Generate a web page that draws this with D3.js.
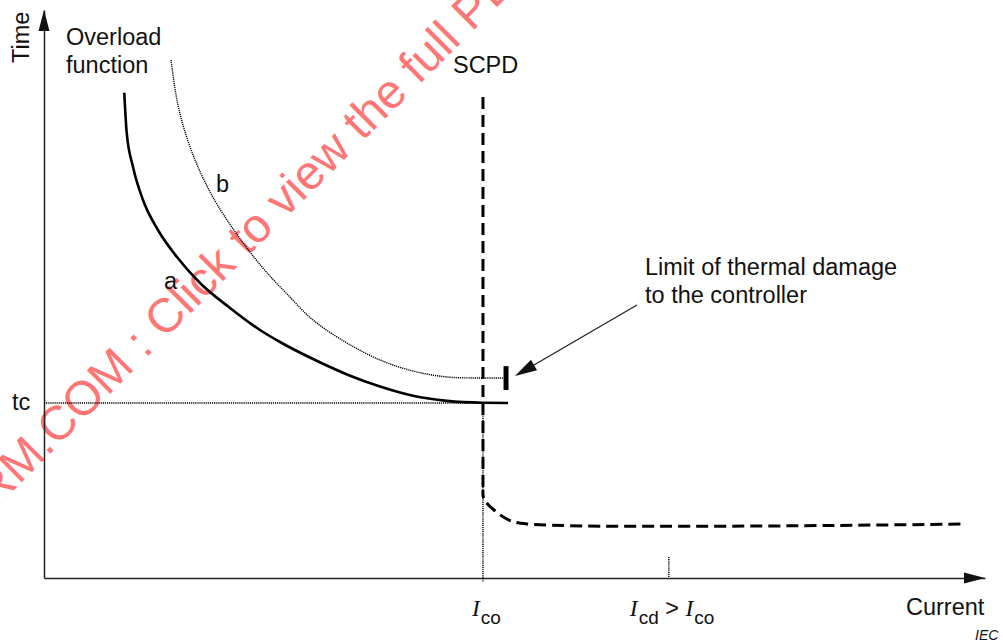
<!DOCTYPE html>
<html><head><meta charset="utf-8">
<script src="https://cdn.jsdelivr.net/npm/d3@7"></script>
<style>
body{margin:0;background:#fff}
svg{display:block}
text{font-family:"Liberation Sans",Arial,Helvetica,sans-serif;fill:#111}
</style>
</head><body>
<svg id="c" width="1003" height="643"></svg>
<script>
// Schematic values (abstract units: current 0-100, time 0-100)
const curveA = [[8.53,85.44],[8.79,78.35],[9.46,72.36],[10.52,66.55],[12.11,61.27],[14.13,56.51],[16.58,51.94],[19.77,47.54],[22.95,43.66],[25.08,41.55],[28.59,38.55],[32.20,35.84],[35.71,33.70],[39.21,32.08],[42.82,31.18],[46.65,30.85],[49.31,30.81]];
const curveB = [[13.50,91.20],[14.13,84.15],[15.02,78.35],[16.37,72.36],[18.12,66.55],[20.40,60.74],[23.17,54.75],[25.93,49.82],[28.59,45.42],[32.20,41.37],[35.71,38.38],[39.21,36.44],[42.83,35.39],[46.55,35.21],[48.78,35.21]];
const scpdVertical = [[46.65,84.68],[46.65,15.49]];
const scpdKnee = [[46.65,15.49],[46.75,13.9],[47.82,11.97],[49.42,10.21],[51.33,9.51],[97.98,9.51]];
const Ico = 46.65, Icd = 66.4, tc = 30.81;
const thermalLimit = {x: 49.1, y0: 33.1, y1: 37.3};
const annotFrom = [63.02, 48.06], annotTo = [50.05, 35.56];
const labelTexts = {time:"Time", current:"Current", overload:["Overload","function"], scpd:"SCPD", limit:["Limit of thermal damage","to the controller"], tc:"tc", a:"a", b:"b", iec:"IEC"};

const svg = d3.select("#c");
const x = d3.scaleLinear().domain([0,100]).range([44,985]);
const y = d3.scaleLinear().domain([0,100]).range([578,10]);

// watermark
svg.append("text")
  .attr("transform","translate(-113,617) rotate(-45)")
  .style("font-size","48px")
  .style("fill","rgb(255,118,118)")
  .text("IECNORM.COM : Click to view the full PDF of IEC 60947-4-2:2020");

const line = d3.line().x(d=>x(d[0])).y(d=>y(d[1]));

// axes
svg.append("g").attr("transform",`translate(0,${y(0)})`)
  .call(d3.axisBottom(x).tickValues([]).tickSizeOuter(0));
svg.append("g").attr("transform",`translate(${x(0)},0)`)
  .call(d3.axisLeft(y).tickValues([]).tickSizeOuter(0));
svg.selectAll(".domain").attr("stroke","#222").attr("stroke-width",1.5);
svg.append("path").attr("d",`M${x(100)},${y(0)} L${x(100)-21},${y(0)-5.5} L${x(100)-21},${y(0)+5.5}Z`).attr("fill","#111");
svg.append("path").attr("d",`M${x(0)},${y(100)} L${x(0)-5.5},${y(100)+21} L${x(0)+5.5},${y(100)+21}Z`).attr("fill","#111");

// dotted guides
const dot = {stroke:"#000", "stroke-width":1.4, "stroke-dasharray":"1.2,0.9", fill:"none"};
function sty(sel,o){for(const k in o) sel.attr(k,o[k]); return sel;}
sty(svg.append("path").attr("d",line([[0,tc],[Ico,tc]])),dot);
sty(svg.append("path").attr("d",line([[Ico,tc],[Ico,-0.7]])),dot);
sty(svg.append("path").attr("d",line([[Icd,3.7],[Icd,0]])),dot);

// curve b (dotted)
sty(svg.append("path").attr("d",line.curve(d3.curveCatmullRom)(curveB)),dot);
// curve a (solid)
svg.append("path").attr("d",line.curve(d3.curveMonotoneX)(curveA)).attr("fill","none").attr("stroke","#000").attr("stroke-width",2.6);

// SCPD dashed
svg.append("path").attr("d",line.curve(d3.curveLinear)(scpdVertical)).attr("fill","none").attr("stroke","#000").attr("stroke-width",3).attr("stroke-dasharray","12,6");
svg.append("path").attr("d",line.curve(d3.curveCatmullRom)(scpdKnee)).attr("fill","none").attr("stroke","#000").attr("stroke-width",3).attr("stroke-dasharray","12,6").attr("stroke-dashoffset",4);

// thermal limit bar
svg.append("path").attr("d",line.curve(d3.curveLinear)([[thermalLimit.x,thermalLimit.y0],[thermalLimit.x,thermalLimit.y1]])).attr("stroke","#000").attr("stroke-width",5);

// annotation arrow
{
  const x0=x(annotFrom[0]), y0=y(annotFrom[1]), x1=x(annotTo[0]), y1=y(annotTo[1]);
  const dx=x1-x0, dy=y1-y0, L=Math.hypot(dx,dy), ux=dx/L, uy=dy/L;
  const bx=x1-ux*22, by=y1-uy*22;
  svg.append("line").attr("x1",x0).attr("y1",y0).attr("x2",bx).attr("y2",by).attr("stroke","#222").attr("stroke-width",1.3);
  svg.append("path").attr("d",`M${x1},${y1} L${bx-uy*6},${by+ux*6} L${bx+uy*6},${by-ux*6}Z`).attr("fill","#111");
}

// labels
const fs = "23.5px";
svg.append("text").attr("transform","translate(29,63) rotate(-90)").style("font-size",fs).text(labelTexts.time);
svg.append("text").attr("x",66).attr("y",45).style("font-size",fs).text(labelTexts.overload[0]);
svg.append("text").attr("x",66).attr("y",73).style("font-size",fs).text(labelTexts.overload[1]);
svg.append("text").attr("x",x(Ico)-30).attr("y",73).style("font-size",fs).text(labelTexts.scpd);
svg.append("text").attr("x",645).attr("y",275).style("font-size",fs).text(labelTexts.limit[0]);
svg.append("text").attr("x",645).attr("y",303).style("font-size",fs).text(labelTexts.limit[1]);
svg.append("text").attr("x",12).attr("y",y(tc)+7).style("font-size",fs).text(labelTexts.tc);
svg.append("text").attr("x",164).attr("y",289).style("font-size",fs).text(labelTexts.a);
svg.append("text").attr("x",216).attr("y",192).style("font-size",fs).text(labelTexts.b);
svg.append("text").attr("x",906).attr("y",615).style("font-size",fs).text(labelTexts.current);
svg.append("text").attr("x",975).attr("y",640).style("font-size","14px").style("font-style","italic").text(labelTexts.iec);

const serif = "'Liberation Serif','Times New Roman',serif";
{
  const t = svg.append("text").attr("x",x(Ico)-11).attr("y",616).style("font-size",fs);
  t.append("tspan").style("font-family",serif).style("font-style","italic").text("I");
  t.append("tspan").attr("dy",8).attr("dx",1).style("font-size","19px").text("co");
}
{
  const t = svg.append("text").attr("x",x(Icd)-39).attr("y",616).style("font-size",fs);
  t.append("tspan").style("font-family",serif).style("font-style","italic").text("I");
  t.append("tspan").attr("dy",8).attr("dx",1).style("font-size","19px").text("cd");
  t.append("tspan").attr("dy",-8).text(" > ");
  t.append("tspan").style("font-family",serif).style("font-style","italic").text("I");
  t.append("tspan").attr("dy",8).attr("dx",1).style("font-size","19px").text("co");
}
</script>
</body></html>
